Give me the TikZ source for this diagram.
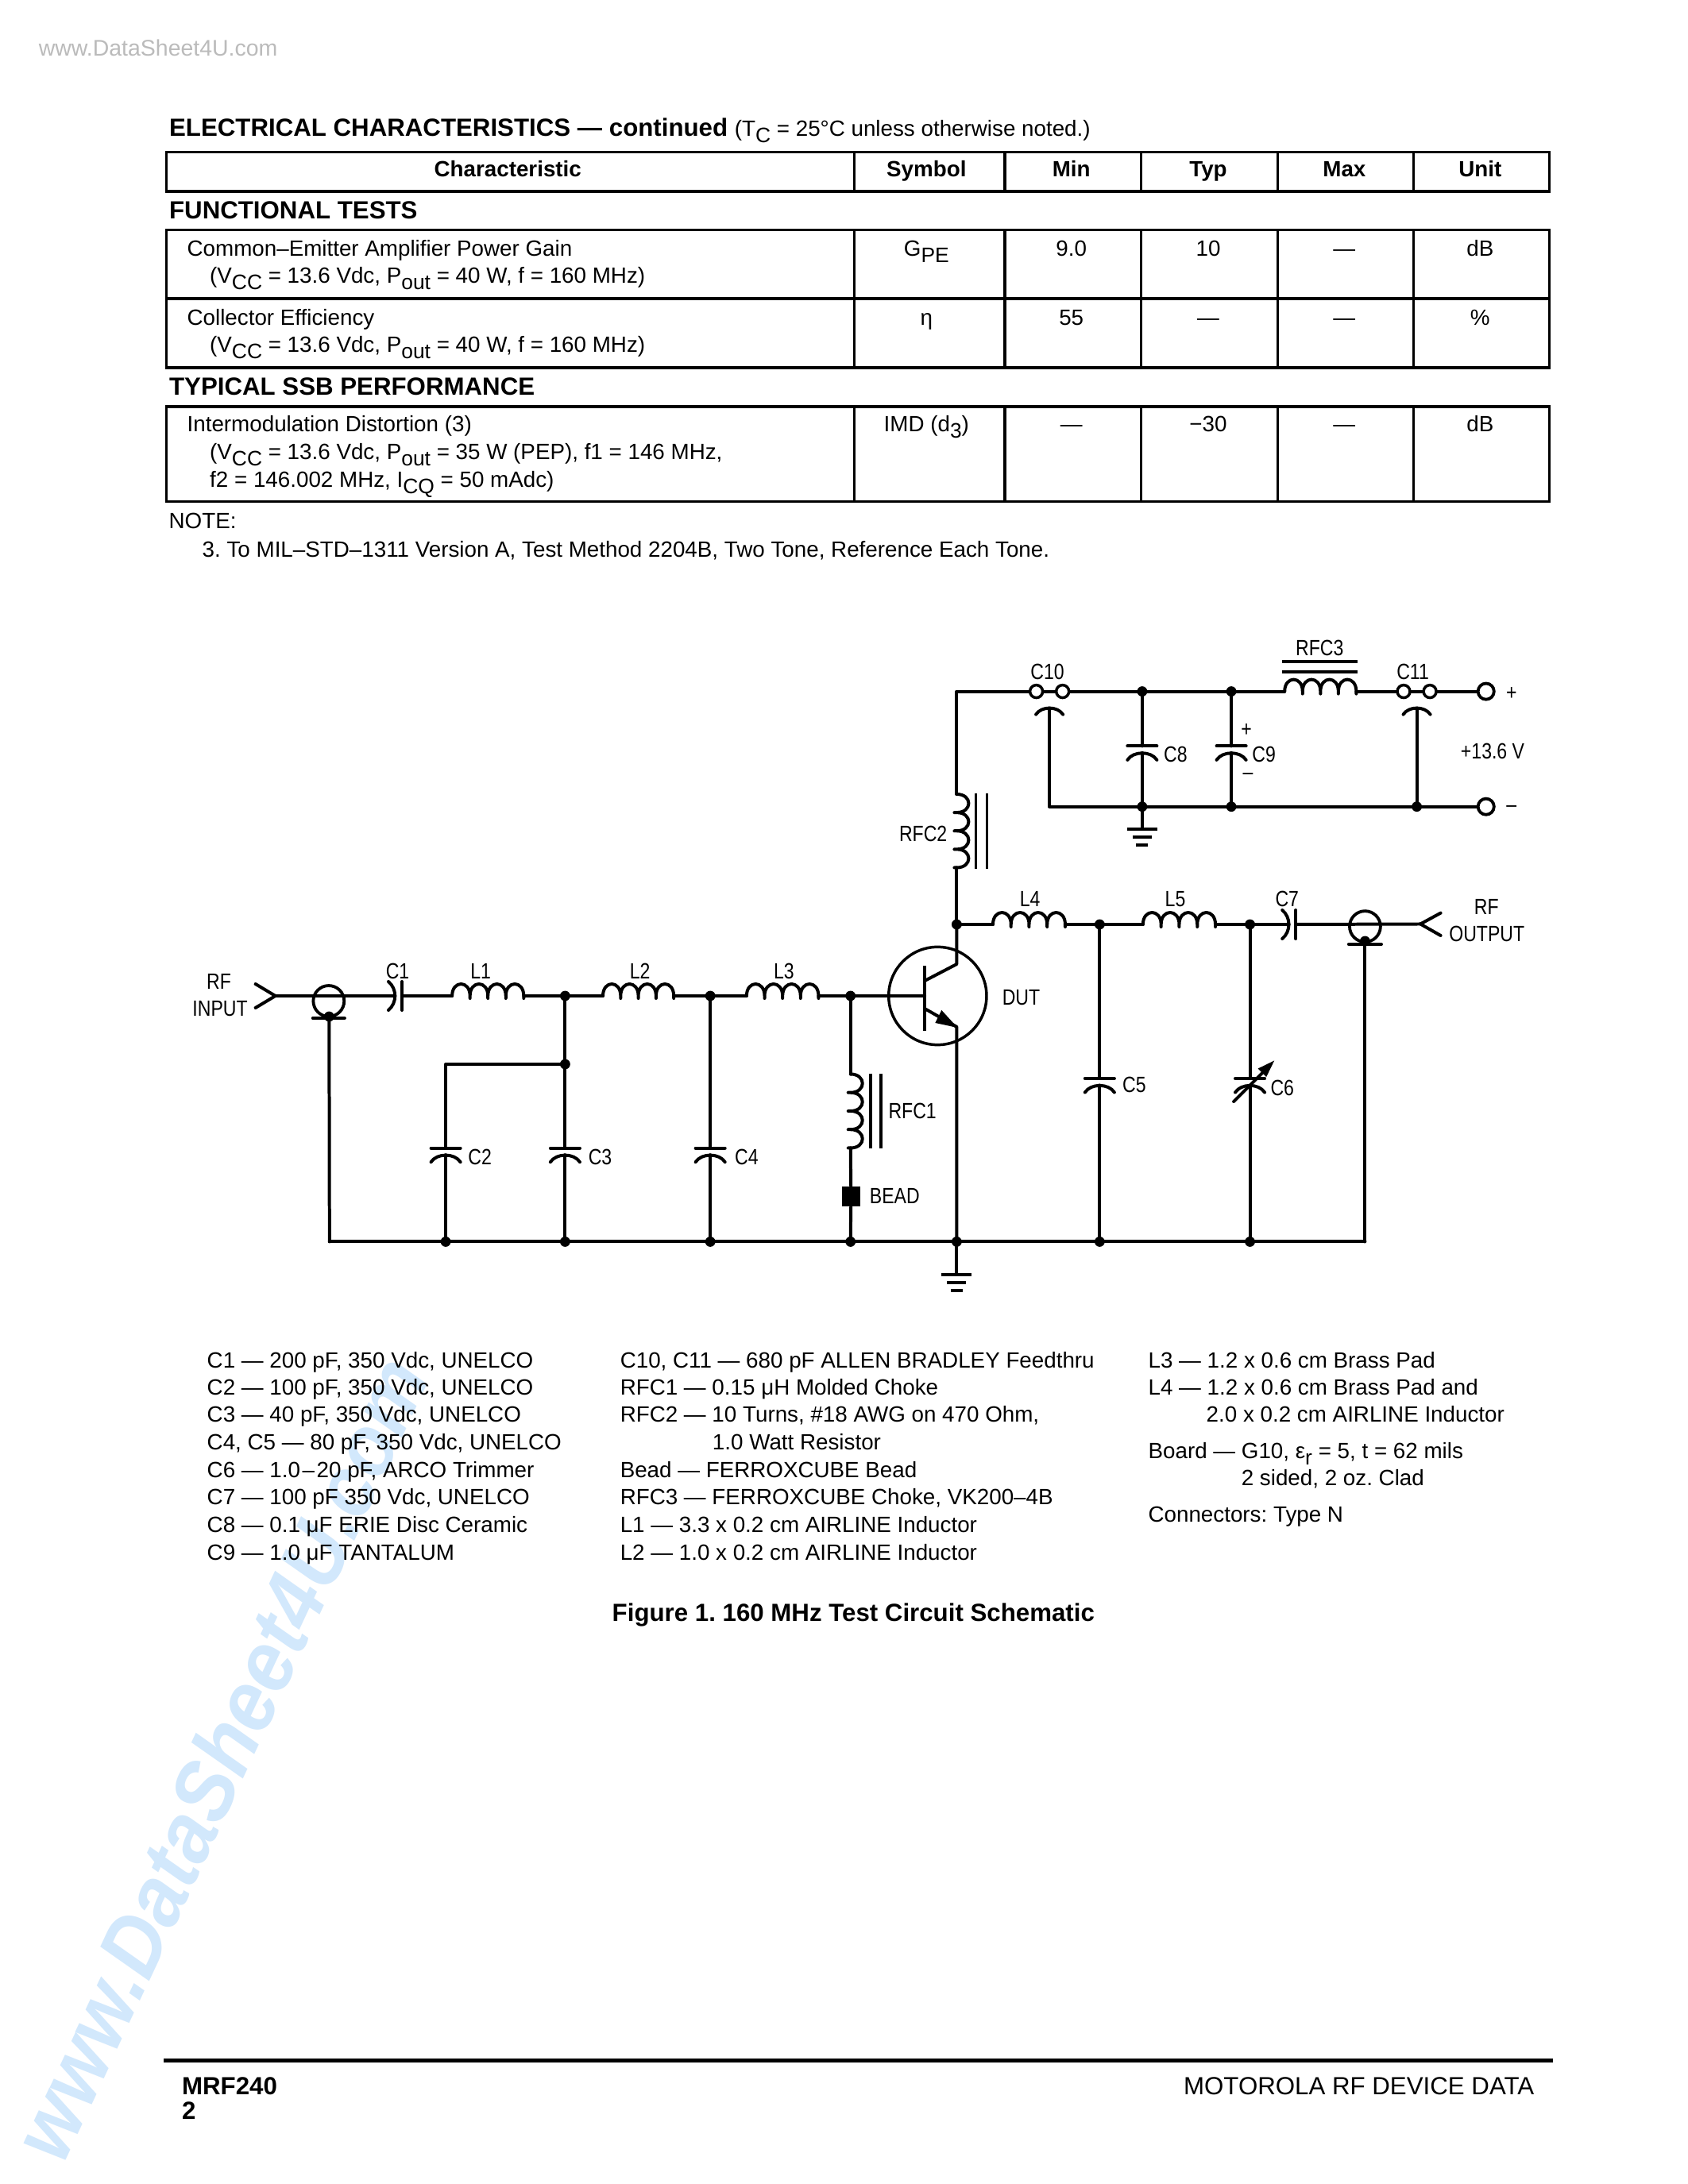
\documentclass[tikz,border=0pt]{standalone}
\usepackage{fontspec}
\setmainfont{Liberation Sans}
\newfontfamily\cndfont[FakeStretch=0.83]{Liberation Sans}
\newfontfamily\wmfont[FakeStretch=0.92]{Liberation Sans}
\AtBeginDocument{\frenchspacing}
\definecolor{wmblue}{HTML}{D2E8FC}
\definecolor{wmgray}{HTML}{BBBBBB}
\newcommand\fbody{\fontsize{8}{10}\selectfont}
\newcommand\fbold{\fontsize{8}{10}\selectfont\bfseries}
\newcommand\fhead{\fontsize{9}{11}\selectfont\bfseries}
\newcommand\fnine{\fontsize{9}{11}\selectfont}
\newcommand\flab{\fontsize{8}{10}\selectfont\cndfont}
\newcommand\sbs[1]{\raisebox{-2.2pt}{\fontsize{7.6}{8}\selectfont #1}}
\tikzset{
  x=0.28858pt,y=-0.288pt,
  txt/.style={anchor=base west,inner sep=0pt,font=\fbody,yshift=-0.4pt},
  ctr/.style={anchor=base,inner sep=0pt,font=\fbody,yshift=-0.4pt},
  ctrb/.style={anchor=base,inner sep=0pt,font=\fbold,yshift=-0.4pt},
  headt/.style={anchor=base west,inner sep=0pt,font=\fhead,yshift=-0.4pt},
  lab/.style={anchor=base west,inner sep=0pt,font=\flab,yshift=-0.4pt,xshift=-0.4pt},
  labc/.style={anchor=base,inner sep=0pt,font=\flab,yshift=-0.4pt},
  labm/.style={anchor=center,inner sep=0pt,font=\flab,yshift=-0.4pt},
  tabline/.style={line width=0.9pt},
  wire/.style={line width=1.15pt,line cap=round,line join=round},
  thinw/.style={line width=1.0pt,line cap=round},
  jd/.style={circle,fill=black,inner sep=0pt,minimum size=3.7pt},
  feedring/.style={circle,draw,line width=1pt,fill=white,inner sep=0pt,minimum size=4.6pt},
  termring/.style={circle,draw,line width=1.1pt,fill=white,inner sep=0pt,minimum size=5.8pt},
  coaxring/.style={circle,draw,line width=1.1pt,inner sep=0pt,minimum size=11.2pt},
  qring/.style={circle,draw,line width=1.0pt,inner sep=0pt,minimum size=35.5pt},
}
% horizontal inductor: name, x0, x1, y
\newcommand\indH[4]{%
  \coordinate (#1-a) at (#2,#4);\coordinate (#1-b) at (#3,#4);
  \pgfmathsetmacro\hw{(#3-#2)/4}
  \draw[wire] (#1-a) \foreach \i in {1,2,3,4}{ .. controls +(0,-20) and +(0,-20) .. ++(\hw,0) -- ++(0,3) -- ++(0,-3)};
}
% vertical inductor: name, x, y0, y1
\newcommand\indV[4]{%
  \coordinate (#1-a) at (#2,#3);\coordinate (#1-b) at (#2,#4);
  \pgfmathsetmacro\hh{(#4-#3)/4}
  \draw[wire] (#1-a) \foreach \i in {1,2,3,4}{ .. controls +(20,0) and +(20,0) .. ++(0,\hh) -- ++(-3,0) -- ++(3,0)};
}
% shunt capacitor: name, x, y of flat plate, half width
\newcommand\capV[4]{%
  \coordinate (#1-t) at (#2,#3);
  \coordinate (#1-b) at ($(#2,#3)+(0,8.5)$);
  \draw[wire] ($(#1-t)+(-#4,0)$) -- ($(#1-t)+(#4,0)$);
  \draw[wire] ($(#1-t)+(-#4,17.5)$) .. controls ($(#1-t)+(-#4*0.6,6)$) and ($(#1-t)+(#4*0.6,6)$) .. ($(#1-t)+(#4,17.5)$);
}
% series capacitor: name, x of flat plate, y
\newcommand\capH[3]{%
  \coordinate (#1-r) at (#2,#3);
  \coordinate (#1-l) at ($(#2,#3)+(-8.5,0)$);
  \draw[wire] ($(#1-r)+(0,-18)$) -- ($(#1-r)+(0,18)$);
  \draw[wire] ($(#1-r)+(-17,-18)$) .. controls ($(#1-r)+(-6,-9)$) and ($(#1-r)+(-6,9)$) .. ($(#1-r)+(-17,18)$);
}
% feedthrough capacitor: name, x1, x2, y
\newcommand\feed[4]{%
  \node[feedring] (#1-L) at (#2,#4) {};
  \node[feedring] (#1-R) at (#3,#4) {};
  \coordinate (#1-m) at ($(#2,#4)!0.5!(#3,#4)+(0,21)$);
  \draw[wire] (#1-L) -- (#1-R);
  \draw[wire] ($(#1-m)+(-17,8)$) .. controls ($(#1-m)+(-10,-2.7)$) and ($(#1-m)+(10,-2.7)$) .. ($(#1-m)+(17,8)$);
}
% ground: name, x, y
\newcommand\gnd[3]{%
  \coordinate (#1) at (#2,#3);
  \draw[wire,line cap=butt] ($(#1)+(-19,0)$) -- ($(#1)+(19,0)$);
  \draw[wire,line cap=butt] ($(#1)+(-12,10.5)$) -- ($(#1)+(12,10.5)$);
  \draw[wire,line cap=butt] ($(#1)+(-7.5,20)$) -- ($(#1)+(7.5,20)$);
}
\usetikzlibrary{calc}
\begin{document}
\begin{tikzpicture}
\useasboundingbox (0pt,0pt) rectangle (612pt,-792pt);
\fill[white] (0pt,0pt) rectangle (612pt,-792pt);
\begin{scope}[xshift=-0.29pt]
% watermarks
\node[anchor=base west,inner sep=0pt,text=wmblue,rotate=65,font=\fontsize{31}{31}\selectfont\wmfont\bfseries\itshape] (wm) at (80,2728) {www.DataSheet4U.com};
\node[anchor=base west,inner sep=0pt,text=wmgray,font=\fontsize{8.2}{10}\selectfont] (wmtop) at (49,70.5) {www.DataSheet4U.com};
% table heading
\node[headt] (h0) at (213,170) {ELECTRICAL CHARACTERISTICS — continued\ \fbody\mdseries (T\sbs{C} = 25°C unless otherwise noted.)};
\node[headt] (h1) at (213,274) {FUNCTIONAL TESTS};
\node[headt] (h2) at (213,496) {TYPICAL SSB PERFORMANCE};
% table rules
\draw[tabline] (210,191.7) rectangle (1948,241);
\draw[tabline] (210,289.7) rectangle (1948,463);
\draw[tabline] (210,376) -- (1948,376);
\draw[tabline] (210,512) rectangle (1948,631.5);
\foreach \xc in {1074,1263.5,1434.6,1606,1777}{
  \draw[tabline] (\xc,191.7) -- (\xc,241);
  \draw[tabline] (\xc,289.7) -- (\xc,463);
  \draw[tabline] (\xc,512) -- (\xc,631.5);
}
% header row
\node[ctrb] (th1) at (639,220.7) {Characteristic};
\node[ctrb] (th2) at (1165,220.7) {Symbol};
\node[ctrb] (th3) at (1347,220.7) {Min};
\node[ctrb] (th4) at (1519,220.7) {Typ};
\node[ctrb] (th5) at (1690,220.7) {Max};
\node[ctrb] (th6) at (1860.6,220.7) {Unit};
% row 1
\node[txt] (r1a) at (235.5,321) {Common–Emitter Amplifier Power Gain};
\node[txt] (r1b) at (264,355) {(V\sbs{CC} = 13.6 Vdc, P\sbs{out} = 40 W, f = 160 MHz)};
\node[ctr] (r1s) at (1165,321) {G\sbs{PE}};
\node[ctr] (r1c) at (1347,321) {9.0};
\node[ctr] (r1d) at (1519,321) {10};
\node[ctr] (r1e) at (1690,321) {—};
\node[ctr] (r1f) at (1860.6,321) {dB};
% row 2
\node[txt] (r2a) at (235.5,408) {Collector Efficiency};
\node[txt] (r2b) at (264,442) {(V\sbs{CC} = 13.6 Vdc, P\sbs{out} = 40 W, f = 160 MHz)};
\node[ctr] (r2s) at (1165,408) {η};
\node[ctr] (r2c) at (1347,408) {55};
\node[ctr] (r2d) at (1519,408) {—};
\node[ctr] (r2e) at (1690,408) {—};
\node[ctr] (r2f) at (1860.6,408) {\%};
% row 3
\node[txt] (r3a) at (235.5,542) {Intermodulation Distortion (3)};
\node[txt] (r3b) at (264,577) {(V\sbs{CC} = 13.6 Vdc, P\sbs{out} = 35 W (PEP), f1 = 146 MHz,};
\node[txt] (r3c) at (264,612) {f2 = 146.002 MHz, I\sbs{CQ} = 50 mAdc)};
\node[ctr] (r3s) at (1165,542) {IMD (d\sbs{3})};
\node[ctr] (r3c2) at (1347,542) {—};
\node[ctr] (r3d) at (1519,542) {−30};
\node[ctr] (r3e) at (1690,542) {—};
\node[ctr] (r3f) at (1860.6,542) {dB};
% note
\node[txt] (n0) at (212.5,664) {NOTE:};
\node[txt] (n1) at (254.5,700) {3. To MIL–STD–1311 Version A, Test Method 2204B, Two Tone, Reference Each Tone.};

% ---------- schematic: junctions and terminals ----------
\node[jd] (n1) at (711,1254) {};
\node[jd] (n1b) at (711,1340) {};
\node[jd] (n2) at (893.4,1254) {};
\node[jd] (n3) at (1069.6,1254) {};
\node[jd] (n5) at (1203,1164) {};
\node[jd] (n6) at (1382.6,1164) {};
\node[jd] (n7) at (1571.4,1164) {};
\node[jd] (n8) at (1436,870.6) {};
\node[jd] (n9) at (1548,870.6) {};
\node[jd] (n10) at (1436,1015.7) {};
\node[jd] (n11) at (1548,1015.7) {};
\node[jd] (n12) at (1781,1015.7) {};
\node[jd] (rC2) at (561,1563.5) {};
\node[jd] (rC3) at (711,1563.5) {};
\node[jd] (rC4) at (893.4,1563.5) {};
\node[jd] (rB) at (1069.6,1563.5) {};
\node[jd] (rE) at (1203,1563.5) {};
\node[jd] (rC5) at (1382.6,1563.5) {};
\node[jd] (rC6) at (1571.4,1563.5) {};
\coordinate (rL) at (415,1563.5);
\coordinate (rR) at (1716,1563.5);
\coordinate (cC2) at (561,1340);
\coordinate (cTL) at (1203,870.6);
\coordinate (cBL) at (1319.5,1015.7);
\coordinate (tipI) at (347,1254);
\coordinate (tipO) at (1785.6,1163.5);
\coordinate (qB) at (1162.8,1254);
\coordinate (qC) at (1203,1214);
\coordinate (qCb) at (1162.8,1235);
\coordinate (qE) at (1203,1293);
\coordinate (qEb) at (1162.8,1270);
% components
\indH{L1}{569}{659}{1254}
\indH{L2}{758.5}{847.5}{1254}
\indH{L3}{939}{1029.4}{1254}
\indH{L4}{1248.5}{1339.3}{1164}
\indH{L5}{1437}{1528}{1164}
\indH{RFC3}{1615}{1705}{870.6}
\indV{RFC1}{1069.6}{1352.5}{1445.5}
\indV{RFC2}{1203}{1000}{1092.5}
\capH{C1}{506}{1254}
\capH{C7}{1629}{1164}
\capV{C2}{561}{1445.7}{18.5}
\capV{C3}{711}{1445.7}{18.5}
\capV{C4}{893.4}{1445.7}{18.5}
\capV{C5}{1382.6}{1358}{18.5}
\capV{C6}{1571.4}{1358}{18.5}
\capV{C8}{1436}{939.4}{18.5}
\capV{C9}{1548}{939.4}{18.5}
\gnd{g1}{1203}{1605}
\gnd{g2}{1436}{1044}
% cores
\draw[wire,line cap=butt] (1612,832.7) -- (1707,832.7);
\draw[wire,line cap=butt] (1612,845.6) -- (1707,845.6);
\draw[thinw,line cap=butt] (1095,1352) -- (1095,1446.5);
\draw[thinw,line cap=butt] (1108,1352) -- (1108,1446.5);
\draw[thinw,line cap=butt] (1227,999) -- (1227,1094);
\draw[thinw,line cap=butt] (1241,999) -- (1241,1094);
% bead
\node[rectangle,fill=black,inner sep=0pt,minimum width=6.6pt,minimum height=7.2pt] (bead) at (1070.2,1506.5) {};
% wires input side
\draw[wire] (tipI) -- (C1-l);
\draw[wire] (322,1239) -- (tipI) -- (322,1269);
\draw[wire] (C1-r) -- (L1-a);
\draw[wire] (L1-b) -- (n1.center) -- (L2-a);
\draw[wire] (L2-b) -- (n2.center) -- (L3-a);
\draw[wire] (L3-b) -- (n3.center) -- (qB);
\draw[wire] (n1.center) -- (n1b.center) -- (C3-t);
\draw[wire] (n1b.center) -- (cC2) -- (C2-t);
\draw[wire] (n2.center) -- (C4-t);
\draw[wire] (C2-b) -- (rC2.center);
\draw[wire] (C3-b) -- (rC3.center);
\draw[wire] (C4-b) -- (rC4.center);
\draw[wire] (n3.center) -- (RFC1-a);
\draw[wire] (RFC1-b) -- (bead) -- (rB.center);
\draw[wire] (rL) -- (rR);
% input coax
\node[coaxring] (cxI) at (414,1260.5) {};
\node[jd] (cxId) at (414.5,1280) {};
\draw[wire] (394,1282) -- (434,1282);
\draw[wire] (cxId.center) -- (rL);
% transistor
\node[qring] (Q) at (1179,1254) {};
\draw[wire,line cap=butt] (1162.8,1216.4) -- (1162.8,1298);
\draw[wire] (qCb) -- (qC) -- (n5.center);
\draw[wire] (qEb) -- (qE) -- (rE.center);
\fill (1204,1294) -- (1176,1288) -- (1184,1272) -- cycle;
\draw[wire] (rE.center) -- (g1);
% output side
\draw[wire] (n5.center) -- (L4-a);
\draw[wire] (L4-b) -- (n6.center) -- (L5-a);
\draw[wire] (L5-b) -- (n7.center) -- (C7-l);
\draw[wire] (C7-r) -- (tipO);
\draw[wire] (1811,1149.6) -- (tipO) -- (1811,1178);
\draw[wire] (n6.center) -- (C5-t);
\draw[wire] (C5-b) -- (rC5.center);
\draw[wire] (n7.center) -- (C6-t);
\draw[wire] (C6-b) -- (rC6.center);
\draw[wire] (1551,1387) -- (1595,1343);
\fill (1602,1335.5) -- (1581.5,1345.5) -- (1592,1356) -- cycle;
\node[coaxring] (cxO) at (1716,1166.6) {};
\node[jd] (cxOd) at (1716,1185) {};
\draw[wire] (1695.5,1189) -- (1736.5,1189);
\draw[wire] (cxOd.center) -- (rR);
% supply side
\draw[wire] (n5.center) -- (RFC2-b);
\draw[wire] (RFC2-a) -- (cTL) -- (1303,870.6);
\feed{C10}{1303}{1336}{870.6}
\feed{C11}{1764.5}{1797.5}{870.6}
\node[termring] (Tp) at (1868,870.6) {};
\node[termring] (Tm) at (1868,1015.7) {};
\draw[wire] (C10-R) -- (n8.center) -- (n9.center) -- (RFC3-a);
\draw[wire] (RFC3-b) -- (C11-L);
\draw[wire] (C11-R) -- (Tp);
\draw[wire] (C10-m) -- (cBL) -- (n10.center) -- (n11.center) -- (n12.center) -- (Tm);
\draw[wire] (n12.center) -- (C11-m);
\draw[wire] (n8.center) -- (C8-t);
\draw[wire] (C8-b) -- (n10.center);
\draw[wire] (n9.center) -- (C9-t);
\draw[wire] (C9-b) -- (n11.center);
\draw[wire] (n10.center) -- (g2);
% schematic labels
\node[labc] (lRF1) at (276,1244) {RF};
\node[labc] (lIN) at (277.5,1278) {INPUT};
\node[labc] (lC1) at (500.5,1231) {C1};
\node[labc] (lL1) at (605,1231) {L1};
\node[labc] (lL2) at (805,1231) {L2};
\node[labc] (lL3) at (986,1231) {L3};
\node[lab] (lC2) at (590,1465) {C2};
\node[lab] (lC3) at (741,1465) {C3};
\node[lab] (lC4) at (925,1465) {C4};
\node[lab] (lRFC1) at (1118,1407.6) {RFC1};
\node[lab] (lB) at (1094.4,1514) {BEAD};
\node[lab] (lDUT) at (1261,1264) {DUT};
\node[labc] (lL4) at (1295,1140) {L4};
\node[labc] (lL5) at (1477.6,1140) {L5};
\node[labc] (lC7) at (1618,1140) {C7};
\node[lab] (lC5) at (1412,1374) {C5};
\node[lab] (lC6) at (1598,1378) {C6};
\node[labc] (lRF2) at (1868.5,1150) {RF};
\node[labc] (lOUT) at (1869,1184) {OUTPUT};
\node[labc] (lC10) at (1317,854.5) {C10};
\node[labc] (lC11) at (1776,854.5) {C11};
\node[labc] (lRFC3) at (1659,824) {RFC3};
\node[lab] (lC8) at (1464,957.7) {C8};
\node[lab] (lC9) at (1575,957.7) {C9};
\node[labm] (lCp) at (1567,918) {+};
\node[labm] (lCm) at (1569,976) {–};
\node[labm] (lTp) at (1900,872) {+};
\node[labm] (lTm) at (1900,1017) {–};
\node[lab] (lV) at (1837,954) {+13.6 V};
\node[lab] (lRFC2) at (1131.5,1057.7) {RFC2};
% parts list
\node[txt] (p1) at (260.5,1720.7) {C1 — 200 pF, 350 Vdc, UNELCO};
\node[txt] (p2) at (260.5,1755) {C2 — 100 pF, 350 Vdc, UNELCO};
\node[txt] (p3) at (260.5,1789) {C3 — 40 pF, 350 Vdc, UNELCO};
\node[txt] (p4) at (260.5,1824) {C4, C5 — 80 pF, 350 Vdc, UNELCO};
\node[txt] (p5) at (260.5,1858.7) {C6 — 1.0\kern.75pt–\kern.75pt20 pF, ARCO Trimmer};
\node[txt] (p6) at (260.5,1893) {C7 — 100 pF 350 Vdc, UNELCO};
\node[txt] (p7) at (260.5,1928) {C8 — 0.1 μF ERIE Disc Ceramic};
\node[txt] (p8) at (260.5,1962.7) {C9 — 1.0 μF TANTALUM};
\node[txt] (q1) at (779.5,1720.7) {C10, C11 — 680 pF ALLEN BRADLEY Feedthru};
\node[txt] (q2) at (779.5,1755) {RFC1 — 0.15 μH Molded Choke};
\node[txt] (q3) at (779.5,1789) {RFC2 — 10 Turns, \#18 AWG on 470 Ohm,};
\node[txt] (q4) at (895.5,1824) {1.0 Watt Resistor};
\node[txt] (q5) at (779.5,1858.7) {Bead — FERROXCUBE Bead};
\node[txt] (q6) at (779.5,1893) {RFC3 — FERROXCUBE Choke, VK200–4B};
\node[txt] (q7) at (779.5,1928) {L1 — 3.3 x 0.2 cm AIRLINE Inductor};
\node[txt] (q8) at (779.5,1962.7) {L2 — 1.0 x 0.2 cm AIRLINE Inductor};
\node[txt] (s1) at (1443,1720.7) {L3 — 1.2 x 0.6 cm Brass Pad};
\node[txt] (s2) at (1443,1755) {L4 — 1.2 x 0.6 cm Brass Pad and};
\node[txt] (s3) at (1516,1789) {2.0 x 0.2 cm AIRLINE Inductor};
\node[txt] (s4) at (1443,1835) {Board — G10, ε\sbs{r} = 5, t = 62 mils};
\node[txt] (s5) at (1560,1869) {2 sided, 2 oz. Clad};
\node[txt] (s6) at (1443,1915) {Connectors: Type N};
\node[headt] (fig) at (769.5,2040) {Figure 1. 160 MHz Test Circuit Schematic};
% footer
\fill (207,2592) rectangle (1952,2597.3);
\node[headt] (f1) at (229,2636) {MRF240};
\node[headt] (f2) at (229,2667.3) {2};
\node[anchor=base east,inner sep=0pt,font=\fnine,yshift=-0.4pt] (f3) at (1929,2636) {MOTOROLA RF DEVICE DATA};
\end{scope}
\end{tikzpicture}
\end{document}
